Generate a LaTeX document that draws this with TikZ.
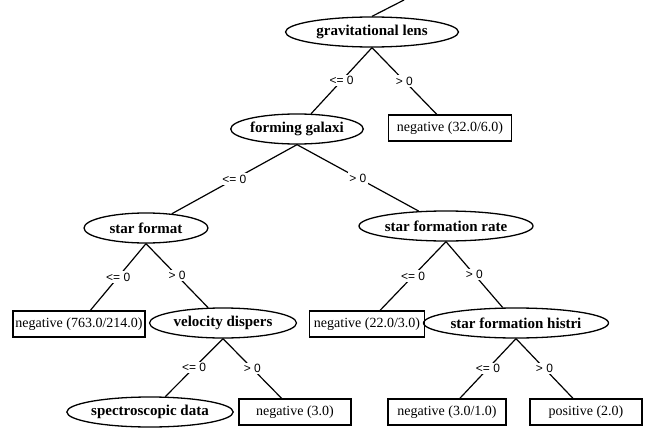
\documentclass[tikz,border=0pt]{standalone}
\usepackage{fontspec}
\setmainfont{Liberation Serif}
\newfontfamily\condfont{Liberation Sans}
\usetikzlibrary{shapes.geometric}

\begin{document}
\begin{tikzpicture}[
  x=1pt, y=-1pt,
  attr/.style={draw, line width=1.3pt, ellipse, inner sep=0pt, minimum height=30pt,
    font=\fontsize{15}{17}\selectfont\bfseries},
  leaf/.style={draw, line width=1.3pt, rectangle, inner sep=0pt, minimum height=26pt,
    font=\fontsize{14}{16}\selectfont},
  cond/.style={fill=white, inner sep=1.5pt, font=\condfont\fontsize{12}{14}\selectfont},
  branch/.style={line width=1.2pt}
]
\useasboundingbox (0,0) rectangle (653,436);

\node [attr, minimum width=173pt] (lens) at (372,32) {gravitational lens};
\node [attr, minimum width=123pt] (galaxi) at (297,129) {forming galaxi};
\node [leaf, minimum width=123pt] (neg32) at (450,128) {negative (32.0/6.0)};

\node [attr, minimum width=124pt] (starf) at (146,228) {star format};
\node [attr, minimum width=174pt] (sfr) at (446,226) {star formation rate};

\node [leaf, minimum width=132pt] (neg763) at (79,324) {negative (763.0/214.0)};
\node [attr, minimum width=147pt] (velo) at (223,323) {velocity dispers};
\node [leaf, minimum width=115pt] (neg22) at (367,324) {negative (22.0/3.0)};
\node [attr, minimum width=174pt] (histri) at (516,323) {star formation histri};

\node [attr, minimum width=165pt] (spec) at (150,412) {spectroscopic data};
\node [leaf, minimum width=112pt] (neg3) at (295,412) {negative (3.0)};
\node [leaf, minimum width=118pt] (neg31) at (447,412) {negative (3.0/1.0)};
\node [leaf, minimum width=112pt] (pos2) at (586,412) {positive (2.0)};

\coordinate (up) at (404,0);
\draw [branch] (lens.north) -- (up);

\draw [branch] (lens.south) -- node [cond] {<= 0} (galaxi);
\draw [branch] (lens.south) -- node [cond] {> 0} (neg32);
\draw [branch] (galaxi.south) -- node [cond] {<= 0} (starf);
\draw [branch] (galaxi.south) -- node [cond] {> 0} (sfr);
\draw [branch] (starf.south) -- node [cond] {<= 0} (neg763);
\draw [branch] (starf.south) -- node [cond] {> 0} (velo);
\draw [branch] (sfr.south) -- node [cond] {<= 0} (neg22);
\draw [branch] (sfr.south) -- node [cond] {> 0} (histri);
\draw [branch] (velo.south) -- node [cond] {<= 0} (spec);
\draw [branch] (velo.south) -- node [cond] {> 0} (neg3);
\draw [branch] (histri.south) -- node [cond] {<= 0} (neg31);
\draw [branch] (histri.south) -- node [cond] {> 0} (pos2);
\end{tikzpicture}
\end{document}
